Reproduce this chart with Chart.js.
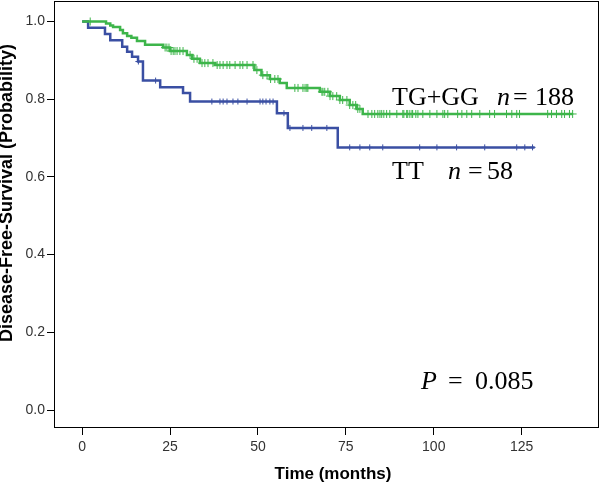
<!DOCTYPE html>
<html>
<head>
<meta charset="utf-8">
<script src="https://cdn.jsdelivr.net/npm/chart.js@4.4.0/dist/chart.umd.min.js"></script>
<style>
  html, body { margin: 0; padding: 0; background: #fff; }
  #wrap { width: 604px; height: 483px; }
</style>
</head>
<body>
<div id="wrap"><canvas id="kmChart"></canvas></div>
<script>
// Courbes de Kaplan-Meier : survie sans maladie selon le génotype

const xTicks = [0, 25, 50, 75, 100, 125];
const yTicks = [0.0, 0.2, 0.4, 0.6, 0.8, 1.0];

// TG+GG (n = 188)
const tgTimes = [0, 6.8, 8.0, 8.8, 10.8, 11.6, 12.8, 14.0, 15.6, 17.9, 23.0, 25.0, 29.8, 31.3, 33.5, 37.8,
  49.0, 51.0, 53.4, 56.2, 58.2, 67.6, 70.5, 73.3, 76.1, 78.1, 79.8, 139.5];
const tgSurv = [1.0, 0.995, 0.990, 0.986, 0.978, 0.970, 0.963, 0.958, 0.950, 0.940, 0.933, 0.924, 0.914, 0.904, 0.893, 0.888,
  0.875, 0.862, 0.852, 0.842, 0.829, 0.819, 0.808, 0.798, 0.785, 0.775, 0.762, 0.762];
const tgCensored = [2.3, 23.6, 24.1, 24.7, 25.3, 25.9, 26.4, 27.0, 27.8, 28.7, 30.7, 31.8, 32.7, 34.1, 34.9, 35.8,
  37.2, 38.4, 39.2, 40.1, 41.2, 42.0, 43.5, 44.9, 45.7, 46.9, 48.6, 49.7, 51.4, 52.6, 53.6, 54.8, 55.7,
  60.5, 61.4, 62.8, 63.4, 63.9, 64.2, 68.2, 68.5, 69.0, 69.9, 70.5, 71.3, 72.4, 73.3, 74.1, 75.3, 76.1,
  77.0, 77.8, 78.4, 79.0, 81.3, 82.4, 83.2, 84.1, 84.7, 85.2, 85.8, 86.6, 87.5, 89.5, 91.2, 91.5, 92.3,
  92.6, 93.2, 93.8, 94.0, 94.9, 95.5, 96.9, 98.9, 100.9, 102.6, 103.1, 104.0, 106.8, 108.0, 109.4, 110.8,
  113.1, 115.9, 117.3, 120.7, 122.2, 123.6, 124.4, 132.4, 133.5, 134.9, 136.4, 137.2, 138.6, 139.5];

// TT (n = 58)
const ttTimes = [0, 1.7, 6.5, 8.0, 11.4, 12.8, 14.2, 15.9, 17.3, 22.2, 28.7, 30.7, 55.4, 58.5, 72.7, 128.7];
const ttSurv = [1.0, 0.984, 0.968, 0.952, 0.935, 0.922, 0.909, 0.897, 0.848, 0.831, 0.816, 0.794, 0.764, 0.726, 0.676, 0.676];
const ttCensored = [16.0, 20.9, 36.9, 39.2, 40.1, 41.2, 42.9, 44.3, 46.9, 50.6, 51.4, 52.3, 53.4, 54.3, 57.4,
  59.1, 62.8, 65.3, 69.6, 76.1, 79.0, 81.8, 85.5, 96.0, 100.9, 106.5, 114.5, 123.6, 125.9, 128.1];

const GREEN = "#3db54a";
const BLUE = "#3a4fa3";

// valeur de la courbe en escalier au temps t
function survAt(times, surv, t) {
  let s = surv[0];
  for (let i = 0; i < times.length; i++) {
    if (times[i] <= t) s = surv[i];
  }
  return s;
}

function toPoints(times, surv) {
  return times.map((t, i) => ({ x: t, y: surv[i] }));
}

function censorPoints(times, surv, cens) {
  return cens.map(t => ({ x: t, y: survAt(times, surv, t) }));
}

const sans = '"Liberation Sans", Arial, sans-serif';
const serif = '"Liberation Serif", "Times New Roman", serif';

const boxAndText = {
  id: "boxAndText",
  afterDraw(chart) {
    const { ctx, chartArea: a } = chart;
    ctx.save();
    ctx.strokeStyle = "#000";
    ctx.lineWidth = 1;
    ctx.strokeRect(a.left + 0.5, a.top + 0.5, a.right - a.left - 1, a.bottom - a.top - 1);

    // titres des axes
    ctx.fillStyle = "#000";
    ctx.font = "bold 17px " + sans;
    ctx.textAlign = "center";
    ctx.textBaseline = "alphabetic";
    ctx.fillText("Time (months)", 333, 479);
    ctx.save();
    ctx.translate(12, 193);
    ctx.rotate(-Math.PI / 2);
    ctx.font = "bold 18px " + sans;
    ctx.fillText("Disease-Free-Survival (Probability)", 0, 0);
    ctx.restore();

    // annotations
    ctx.textAlign = "left";
    ctx.font = "26px " + serif;
    ctx.fillText("TG+GG", 392, 105);
    ctx.fillText("=", 513, 105);
    ctx.fillText("188", 535, 105);
    ctx.fillText("TT", 392, 179);
    ctx.fillText("=", 468, 179);
    ctx.fillText("58", 487, 179);
    ctx.fillText("=", 448, 389);
    ctx.fillText("0.085", 475, 389);
    ctx.font = "italic 26px " + serif;
    ctx.fillText("n", 497, 105);
    ctx.fillText("n", 448, 179);
    ctx.fillText("P", 421, 389);
    ctx.restore();
  }
};

const ctx = document.getElementById("kmChart").getContext("2d");
new Chart(ctx, {
  type: "line",
  data: {
    datasets: [
      {
        label: "TG+GG",
        data: toPoints(tgTimes, tgSurv),
        borderColor: GREEN,
        borderWidth: 2.5,
        stepped: "before",
        pointRadius: 0,
        fill: false
      },
      {
        label: "TG+GG censurés",
        type: "scatter",
        data: censorPoints(tgTimes, tgSurv, tgCensored),
        pointStyle: "cross",
        pointRadius: 4,
        borderColor: GREEN,
        borderWidth: 1,
        showLine: false
      },
      {
        label: "TT",
        data: toPoints(ttTimes, ttSurv),
        borderColor: BLUE,
        borderWidth: 2.5,
        stepped: "before",
        pointRadius: 0,
        fill: false
      },
      {
        label: "TT censurés",
        type: "scatter",
        data: censorPoints(ttTimes, ttSurv, ttCensored),
        pointStyle: "cross",
        pointRadius: 3,
        borderColor: BLUE,
        borderWidth: 1,
        showLine: false
      }
    ]
  },
  options: {
    responsive: true,
    maintainAspectRatio: false,
    animation: false,
    layout: { autoPadding: false, padding: { top: 1, right: 5, left: 0, bottom: 0 } },
    plugins: {
      legend: { display: false },
      tooltip: { enabled: false }
    },
    scales: {
      x: {
        type: "linear",
        min: -8,
        max: 147,
        afterBuildTicks: s => { s.ticks = xTicks.map(v => ({ value: v })); },
        afterFit: s => { s.height = 55; s.paddingLeft = 0; s.paddingRight = 0; },
        grid: { drawOnChartArea: false, drawTicks: true, tickLength: 7, color: "#000" },
        border: { display: false },
        ticks: { color: "#333", padding: 4, font: { family: sans, size: 14 } }
      },
      y: {
        type: "linear",
        min: -0.0463,
        max: 1.0528,
        afterBuildTicks: s => { s.ticks = yTicks.map(v => ({ value: v })); },
        afterFit: s => { s.width = 54; s.paddingTop = 0; s.paddingBottom = 0; },
        grid: { drawOnChartArea: false, drawTicks: true, tickLength: 7, color: "#000" },
        border: { display: false },
        ticks: {
          color: "#333",
          padding: 2,
          font: { family: sans, size: 14 },
          callback: v => v.toFixed(1)
        }
      }
    }
  },
  plugins: [boxAndText]
});
</script>
</body>
</html>
